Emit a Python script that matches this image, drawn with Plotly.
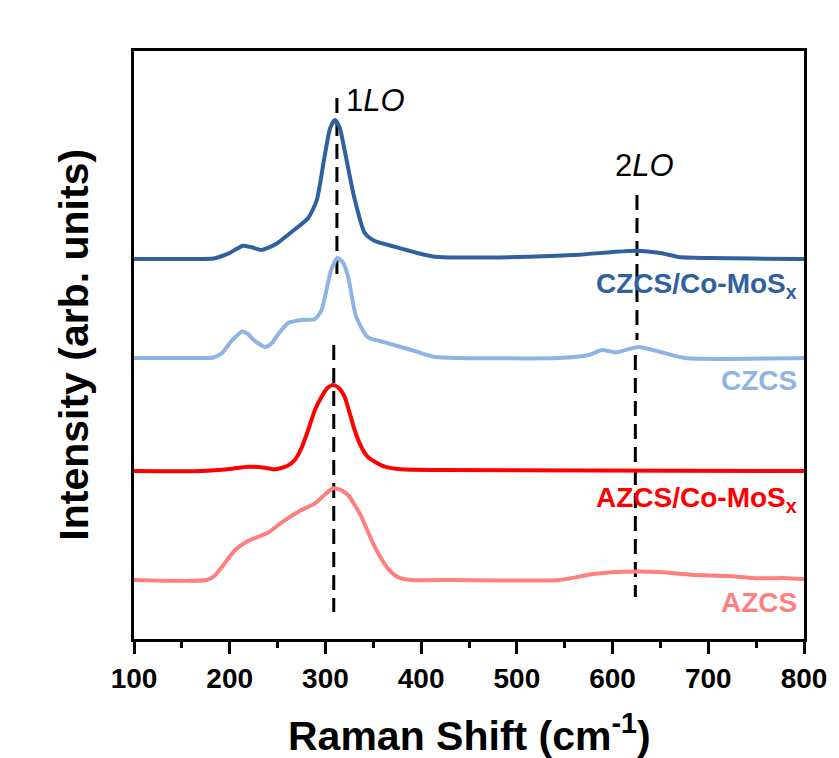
import plotly.graph_objects as go

# Raman shift (cm-1) and intensity above each spectrum's own baseline (arb. units)
czcs_co_x = [100, 170, 183, 192, 200, 207, 214, 222, 233, 242, 250, 265, 282, 291, 299, 305,
             310, 315, 320, 330, 341, 351, 372, 396, 414, 440, 513, 565, 600, 625, 650,
             669, 700, 797, 800]
czcs_co_y = [0, 0, 0.5, 3, 6, 10, 13.3, 12, 9, 12, 16, 27.3, 41, 59, 102, 131,
             139, 131, 109, 62, 26, 18.3, 12.3, 6, 2.3, 1.5, 2.3, 4.3, 7, 8.3, 6,
             2, 1, 0, 0]

czcs_x = [100, 175, 183, 192, 200, 207, 213, 219, 225, 237, 244, 250, 261, 275, 289, 296,
          306, 312.5, 318, 323.6, 332, 344, 362, 390, 414, 440, 544, 575, 589, 603, 627,
          650, 676, 800]
czcs_y = [0, 0, 0.5, 5, 15, 22, 26.6, 24, 18, 11, 15, 23, 35, 38, 39, 48,
          88, 100, 96, 81.6, 41.6, 21, 15.6, 8, 1, 0, 0, 3, 8, 5.6, 11,
          6, 0, 0]

azcs_co_x = [100, 171, 200, 219.5, 235, 247, 260, 268, 275, 282, 289, 296, 302, 308, 314,
             320, 325, 330.5, 337, 344, 352, 362, 379, 420, 800]
azcs_co_y = [0, 0, 2, 4.3, 3.5, 1.7, 5, 11, 23, 41, 61, 74.3, 83, 86, 83,
             74.3, 59, 41, 25, 14.3, 9, 4.3, 1.7, 1, 0]

azcs_x = [100, 176, 184, 192, 205.6, 219.5, 240, 254, 271.5, 289, 300, 308, 316, 323.6,
          330, 337.5, 351.4, 365, 373, 379, 390, 435, 544, 580, 613, 650, 682, 720, 752,
          780, 800]
azcs_y = [0, 0, 4, 13.3, 30, 39.3, 47.3, 57.3, 68.3, 76.7, 86, 91.7, 90, 85,
          76, 63.3, 33.3, 11.7, 4.5, 1.7, 0, 0, 0, 6, 8.3, 8, 5.3, 4, 1.7,
          2, 0.7]

# Vertical stacking offsets
offsets = {"CZCS/Co-MoSx": 380, "CZCS": 281, "AZCS/Co-MoSx": 168, "AZCS": 59}

series = [
    ("CZCS/Co-MoSx", czcs_co_x, czcs_co_y, "#30609E"),
    ("CZCS", czcs_x, czcs_y, "#8EB4E3"),
    ("AZCS/Co-MoSx", azcs_co_x, azcs_co_y, "#FF0000"),
    ("AZCS", azcs_x, azcs_y, "#FF7F7F"),
]

# Peak marker positions (x, y_start, y_end)
lo1_segments = [(312, 541, 364), (308.7, 294, 27)]
lo2_segments = [(625.5, 444, 299), (623.8, 284, 42)]

FONT = "Arial, Liberation Sans, sans-serif"

fig = go.Figure()

for x0, ya, yb in lo1_segments + lo2_segments:
    fig.add_trace(go.Scatter(x=[x0, x0], y=[ya, yb], mode="lines",
                             line=dict(color="black", width=3, dash="15px,8px"),
                             showlegend=False, hoverinfo="skip"))

for name, xs, ys, color in series:
    off = offsets[name]
    fig.add_trace(go.Scatter(x=xs, y=[v + off for v in ys], mode="lines", name=name,
                             line=dict(color=color, width=4, shape="spline", smoothing=0.6),
                             showlegend=False))

label_specs = [
    ("CZCS/Co-MoS<sub>x</sub>", "#30609E", 354),
    ("CZCS", "#8EB4E3", 259),
    ("AZCS/Co-MoS<sub>x</sub>", "#FF0000", 140),
    ("AZCS", "#FF7F7F", 37),
]
for text, color, yv in label_specs:
    fig.add_annotation(x=0.993, xref="paper", y=yv, yref="y", text=f"<b>{text}</b>",
                       showarrow=False, xanchor="right", yanchor="middle",
                       font=dict(family=FONT, size=28, color=color))

fig.add_annotation(x=319, y=539, text="1<i>LO</i>", showarrow=False, xanchor="left",
                   yanchor="middle", font=dict(family=FONT, size=31, color="black"))
fig.add_annotation(x=600, y=474, text="2<i>LO</i>", showarrow=False, xanchor="left",
                   yanchor="middle", font=dict(family=FONT, size=31, color="black"))

fig.add_annotation(x=-0.09, xref="paper", y=0.5, yref="paper",
                   text="<b>Intensity (arb. units)</b>", textangle=-90, showarrow=False,
                   xanchor="center", yanchor="middle",
                   font=dict(family=FONT, size=41, color="black"))
fig.add_annotation(x=0.5, xref="paper", y=-0.16, yref="paper",
                   text="<b>Raman Shift (cm<sup>-1</sup>)</b>", showarrow=False,
                   xanchor="center", yanchor="middle",
                   font=dict(family=FONT, size=41, color="black"))

fig.update_layout(
    width=839, height=758,
    margin=dict(l=133.5, r=33, t=51, b=119),
    paper_bgcolor="white", plot_bgcolor="white",
    xaxis=dict(range=[100, 800], tick0=100, dtick=100, ticks="outside", ticklen=12,
               tickwidth=3, tickcolor="black", showline=True, linecolor="black",
               linewidth=3, mirror=True, showgrid=False, zeroline=False,
               tickfont=dict(family=FONT, size=28, color="black", weight="bold"),
               minor=dict(ticks="outside", ticklen=6, tickwidth=3, tickcolor="black",
                          dtick=50, tick0=100, showgrid=False)),
    yaxis=dict(range=[0, 588], showticklabels=False, ticks="", showline=True,
               linecolor="black", linewidth=3, mirror=True, showgrid=False,
               zeroline=False),
)

fig.write_html("out.html")
